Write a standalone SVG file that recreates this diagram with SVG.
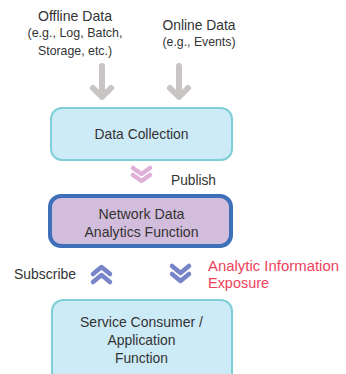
<svg xmlns="http://www.w3.org/2000/svg" width="346" height="374" viewBox="0 0 346 374">
<style>
text{font-family:"Liberation Sans",Arial,sans-serif;font-size:15px;fill:#333;text-anchor:middle}
.s{font-size:13.5px}
.red{fill:#ee3f5c;font-size:15px;text-anchor:start}
.box{fill:#cdeaf7;stroke:#7fcfd6;stroke-width:2}
.gray{fill:none;stroke:#c9c5c5;stroke-width:6;stroke-linecap:round;stroke-linejoin:round}
.chev{fill:none;stroke-width:4.5;stroke-linecap:round;stroke-linejoin:round}
</style>
<rect width="346" height="374" fill="#fff"/>
<g id="offline">
<text x="75" y="20.5" textLength="74" lengthAdjust="spacingAndGlyphs">Offline Data</text>
<text class="s" x="75" y="37" textLength="95" lengthAdjust="spacingAndGlyphs">(e.g., Log, Batch,</text>
<text class="s" x="75" y="55" textLength="74" lengthAdjust="spacingAndGlyphs">Storage, etc.)</text>
</g>
<g id="online">
<text x="199" y="29.5" textLength="73" lengthAdjust="spacingAndGlyphs">Online Data</text>
<text class="s" x="199" y="46" textLength="73" lengthAdjust="spacingAndGlyphs">(e.g., Events)</text>
</g>
<g id="data-collection">
<rect class="box" x="51" y="108" width="181" height="52" rx="11"/>
<text x="141.5" y="138.5" textLength="94" lengthAdjust="spacingAndGlyphs">Data Collection</text>
</g>
<g id="nwdaf">
<rect x="50" y="196" width="181" height="50" rx="11" fill="#d3bddc" stroke="#3d70b8" stroke-width="4"/>
<text x="141.5" y="218.5" textLength="86" lengthAdjust="spacingAndGlyphs">Network Data</text>
<text x="141.5" y="236.5" textLength="114" lengthAdjust="spacingAndGlyphs">Analytics Function</text>
</g>
<g id="consumer">
<rect class="box" x="52" y="300" width="180" height="95" rx="11"/>
<text x="141.5" y="326.5" textLength="123" lengthAdjust="spacingAndGlyphs">Service Consumer /</text>
<text x="141.5" y="344.5" textLength="68" lengthAdjust="spacingAndGlyphs">Application</text>
<text x="141.5" y="362.5" textLength="53" lengthAdjust="spacingAndGlyphs">Function</text>
</g>
<g id="connectors">
<path class="gray" d="M102,66 V96 M93,88 L102,97 L111,88"/>
<path class="gray" d="M179,66 V96 M170,88 L179,97 L188,88"/>
<path class="chev" stroke="#dfb1d8" d="M133,168 L141.5,174 L150,168 M133,175 L141.5,181 L150,175"/>
<path class="chev" stroke="#7884c8" d="M93,274 L101.5,267 L110,274 M93,282 L101.5,275 L110,282"/>
<path class="chev" stroke="#7884c8" d="M172,266 L180.5,273 L189,266 M172,274 L180.5,281 L189,274"/>
</g>
<g id="labels">
<text x="193.5" y="184.5" textLength="45" lengthAdjust="spacingAndGlyphs">Publish</text>
<text x="45" y="278.5" textLength="62" lengthAdjust="spacingAndGlyphs">Subscribe</text>
<text class="red" x="208" y="270.5" textLength="131" lengthAdjust="spacingAndGlyphs">Analytic Information</text>
<text class="red" x="208" y="287.5" textLength="61" lengthAdjust="spacingAndGlyphs">Exposure</text>
</g>
</svg>
